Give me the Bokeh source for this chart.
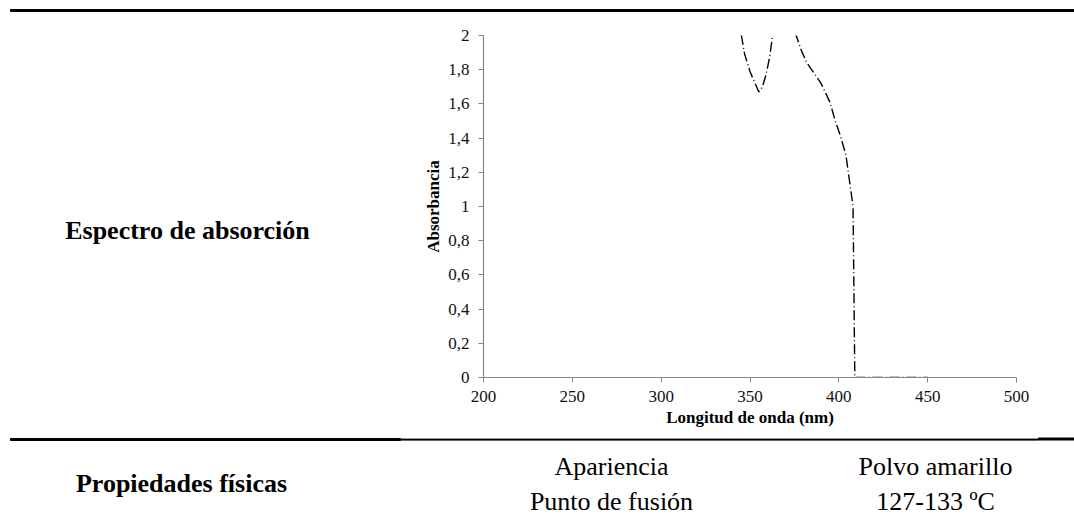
from bokeh.plotting import figure
from bokeh.models import Range1d, FixedTicker
from bokeh.layouts import column, row
from bokeh.core.properties import value
from bokeh.embed import file_html
from bokeh.resources import INLINE

# UV-Vis absorption spectrum (wavelength in nm, absorbance)
wavelength = [343, 345, 347, 350, 352, 355, 357, 359, 361, 363, 368, 374, 376,
              379, 382, 386, 390, 395, 398, 401, 404, 406, 408, 409, 430, 450]
absorbance = [2.10, 2.01, 1.89, 1.79, 1.74, 1.67, 1.70, 1.77, 1.87, 2.02, 2.30, 2.10, 2.00,
              1.91, 1.84, 1.78, 1.72, 1.61, 1.50, 1.41, 1.30, 1.15, 1.00, 0.00, 0.00, 0.00]

x_ticks = [200, 250, 300, 350, 400, 450, 500]
y_ticks = [0, 0.2, 0.4, 0.6, 0.8, 1, 1.2, 1.4, 1.6, 1.8, 2]
y_tick_labels = ["0", "0,2", "0,4", "0,6", "0,8", "1", "1,2", "1,4", "1,6", "1,8", "2"]

# Property table rows
row_headers = ["Espectro de absorción", "Propiedades físicas"]
prop_names = ["Apariencia", "Punto de fusión"]
prop_values = ["Polvo amarillo", "127-133 ºC"]

SERIF = "Liberation Serif"
AXIS_GREY = "#868686"
W, H = 1074, 525
TOP_H = 20          # strip holding the top rule
MID_H = 412         # chart row
BOT_H = H - TOP_H - MID_H
LEFT_W = 400        # row-header cell beside the chart
FRAME_TOP, FRAME_BOTTOM = 35, 377   # page y of the chart's plotting area
TABLE_FONT = "26px"


def blank(width, height, y0, y1, border_top=0, border_bottom=0):
    """A figure whose frame maps page-pixel coordinates (y0 at its top, y1 at its bottom)."""
    f = figure(width=width, height=height, output_backend="svg", toolbar_location=None,
               x_range=Range1d(0, width), y_range=Range1d(y1, y0),
               min_border_left=0, min_border_right=0,
               min_border_top=border_top, min_border_bottom=border_bottom,
               title=None, x_axis_location=None, y_axis_location=None)
    f.outline_line_color = None
    f.grid.visible = False
    f.background_fill_color = "white"
    f.border_fill_color = "white"
    return f


def label(f, texts, xs, ys, bold=False):
    f.text(x=xs, y=ys, text=texts, text_font=value(SERIF), text_font_size=TABLE_FONT,
           text_font_style="bold" if bold else "normal",
           text_align="center", text_baseline="middle", text_color="black")


# top rule
top = blank(W, TOP_H, 0, TOP_H)
top.quad(left=[10], right=[W], top=[9], bottom=[11], color="black")

# left cell with the row header; its frame lines up with the chart's frame
left = blank(LEFT_W, MID_H, FRAME_TOP, FRAME_BOTTOM,
             border_top=FRAME_TOP - TOP_H, border_bottom=TOP_H + MID_H - FRAME_BOTTOM)
label(left, [row_headers[0]], [187], [230], bold=True)

# absorption spectrum
p = figure(width=W - LEFT_W, height=MID_H, output_backend="svg", toolbar_location=None,
           x_range=Range1d(200, 500), y_range=Range1d(0, 2), title=None,
           min_border_left=483 - LEFT_W, min_border_right=58,
           min_border_top=FRAME_TOP - TOP_H, min_border_bottom=TOP_H + MID_H - FRAME_BOTTOM)
p.outline_line_color = None
p.grid.visible = False
p.background_fill_color = "white"
p.border_fill_color = "white"

p.line(wavelength, absorbance, line_color="black", line_width=1.4, line_dash="10 3 1 3")

for ax in (p.xaxis[0], p.yaxis[0]):
    ax.axis_line_color = AXIS_GREY
    ax.axis_line_width = 1.2
    ax.major_tick_line_color = AXIS_GREY
    ax.major_tick_out = 5
    ax.major_tick_in = 0
    ax.minor_tick_line_color = None
    ax.major_label_text_font = SERIF
    ax.major_label_text_font_size = "17px"
    ax.major_label_text_color = "#111111"
    ax.axis_label_text_font = SERIF
    ax.axis_label_text_font_style = "bold"
    ax.axis_label_text_font_size = "17px"
    ax.axis_label_text_color = "black"

p.xaxis.ticker = FixedTicker(ticks=x_ticks)
p.yaxis.ticker = FixedTicker(ticks=y_ticks)
p.yaxis.major_label_overrides = dict(zip(y_ticks, y_tick_labels))
p.xaxis.axis_label = "Longitud de onda (nm)"
p.yaxis.axis_label = "Absorbancia"
p.xaxis.major_label_standoff = 8
p.yaxis.major_label_standoff = 9
p.xaxis.axis_label_standoff = 3
p.yaxis.axis_label_standoff = 2

# bottom part: rule and physical properties
bot = blank(W, BOT_H, TOP_H + MID_H, H)
bot.quad(left=[10], right=[400], top=[438], bottom=[440], color="black")
bot.quad(left=[400], right=[1038], top=[438.6], bottom=[439.6], color="black")
bot.quad(left=[1038], right=[W], top=[437.5], bottom=[439.5], color="black")
label(bot, [row_headers[1]], [181], [483], bold=True)
label(bot, prop_names, [611, 611], [466, 501])
label(bot, prop_values, [935, 935], [466, 501])

layout = column(top, row(left, p, spacing=0), bot, spacing=0)
open("out.html", "w").write(file_html(layout, INLINE))
